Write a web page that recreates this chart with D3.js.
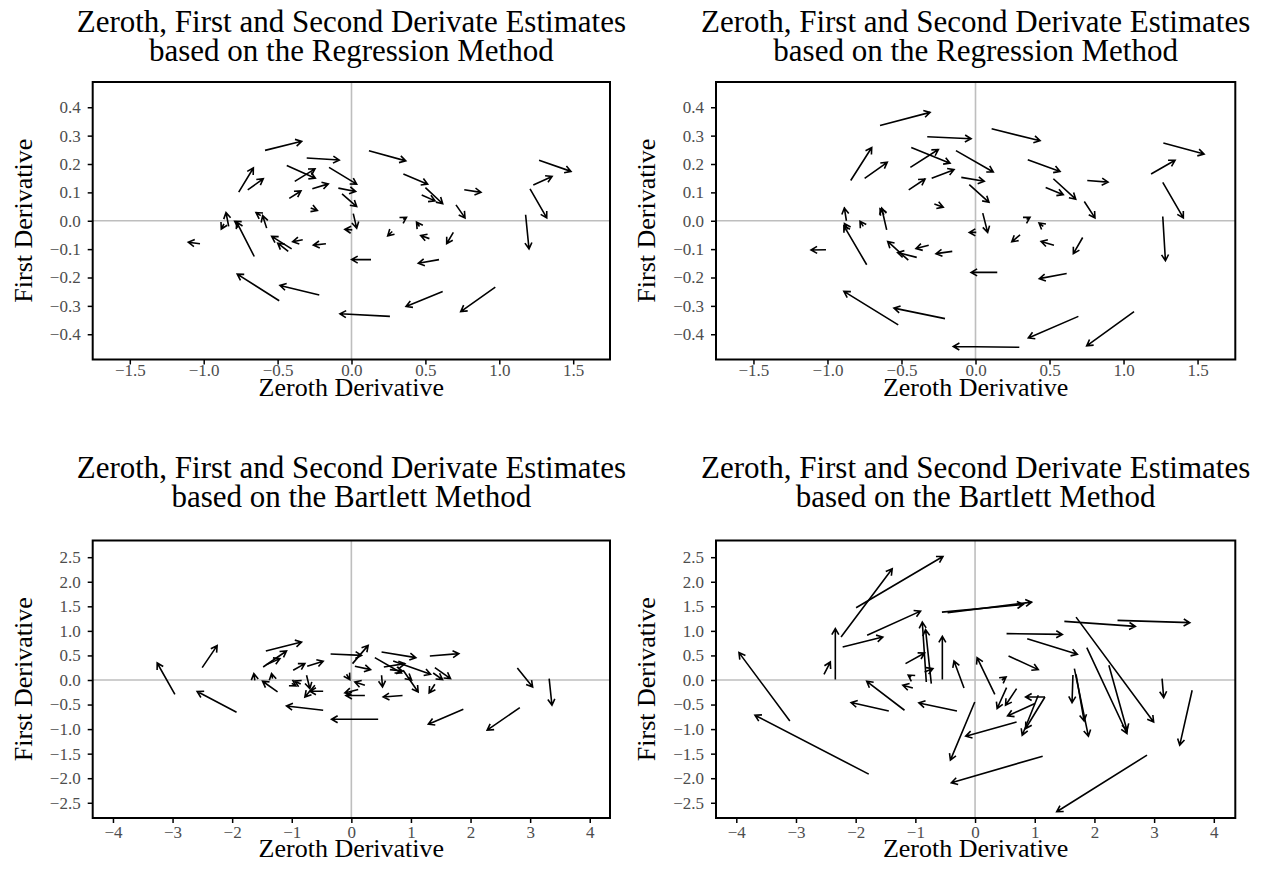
<!DOCTYPE html>
<html>
<head>
<meta charset="utf-8">
<script src="https://cdn.jsdelivr.net/npm/d3@7"></script>
<style>
  body { margin: 0; background: #ffffff; }
  svg text { font-family: "Liberation Serif", "Times New Roman", serif; }
</style>
</head>
<body>
<svg id="chart" width="1263" height="882"></svg>
<script>
// each arrow is [start zeroth, start first, end zeroth, end first]
var regressionA = [
  [-0.585, 0.248, -0.337, 0.280], [-0.303, 0.221, -0.083, 0.214],
  [-0.438, 0.195, -0.245, 0.150], [-0.384, 0.139, -0.247, 0.183],
  [-0.152, 0.188, 0.035, 0.129], [-0.763, 0.101, -0.664, 0.186],
  [-0.702, 0.109, -0.597, 0.148], [-0.265, 0.113, -0.157, 0.130],
  [-0.421, 0.079, -0.342, 0.105], [-0.089, 0.115, 0.028, 0.103],
  [-0.064, 0.095, 0.035, 0.050], [-0.276, 0.045, -0.231, 0.036],
  [0.012, 0.025, 0.035, -0.026], [-0.831, -0.020, -0.849, 0.029],
  [-0.863, -0.011, -0.881, -0.029], [-0.658, -0.126, -0.777, -0.005],
  [-0.760, -0.012, -0.790, -0.002], [-0.574, -0.026, -0.601, 0.018],
  [-0.614, 0.018, -0.646, 0.029], [-0.405, -0.099, -0.540, -0.055],
  [-0.428, -0.108, -0.499, -0.079], [-0.330, -0.067, -0.398, -0.074],
  [-0.173, -0.081, -0.258, -0.086], [-1.025, -0.081, -1.104, -0.076],
  [-0.489, -0.282, -0.773, -0.188], [-0.218, -0.262, -0.484, -0.228],
  [0.005, -0.032, -0.045, -0.030], [0.132, -0.137, 0.001, -0.137],
  [0.260, -0.337, -0.078, -0.328], [0.118, 0.247, 0.367, 0.211],
  [0.351, 0.165, 0.515, 0.129], [0.500, 0.117, 0.617, 0.060],
  [0.475, 0.091, 0.565, 0.070], [0.763, 0.109, 0.876, 0.100],
  [0.707, 0.056, 0.768, 0.010], [1.269, 0.213, 1.485, 0.174],
  [1.230, 0.126, 1.357, 0.156], [1.208, 0.112, 1.321, 0.010],
  [1.178, 0.021, 1.201, -0.099], [0.973, -0.234, 0.739, -0.320],
  [0.617, -0.249, 0.369, -0.302], [0.592, -0.137, 0.452, -0.150],
  [0.527, -0.063, 0.468, -0.052], [0.689, -0.041, 0.644, -0.081],
  [0.276, -0.038, 0.245, -0.053], [0.460, -0.020, 0.440, -0.005],
  [0.350, 0.005, 0.372, 0.012]
];

var regressionB = [
  [-0.645, 0.336, -0.307, 0.382], [-0.326, 0.296, -0.030, 0.289],
  [-0.434, 0.258, -0.172, 0.203], [-0.440, 0.188, -0.251, 0.251],
  [-0.132, 0.247, 0.120, 0.172], [-0.843, 0.142, -0.701, 0.258],
  [-0.749, 0.149, -0.596, 0.206], [-0.296, 0.150, -0.145, 0.180],
  [-0.451, 0.109, -0.341, 0.147], [-0.096, 0.153, 0.059, 0.139],
  [-0.042, 0.127, 0.091, 0.065], [-0.278, 0.059, -0.218, 0.048],
  [0.049, 0.027, 0.082, -0.041], [-0.872, 0.000, -0.886, 0.045],
  [-0.862, -0.030, -0.885, -0.010], [-0.735, -0.155, -0.889, -0.018],
  [-0.758, -0.020, -0.780, -0.002], [-0.600, -0.032, -0.634, 0.045],
  [-0.618, 0.021, -0.645, 0.042], [-0.454, -0.139, -0.593, -0.073],
  [-0.397, -0.129, -0.526, -0.112], [-0.316, -0.086, -0.402, -0.098],
  [-0.157, -0.108, -0.267, -0.116], [-1.010, -0.102, -1.111, -0.103],
  [-0.522, -0.367, -0.889, -0.249], [-0.206, -0.345, -0.551, -0.308],
  [0.005, -0.041, -0.042, -0.041], [0.147, -0.182, -0.030, -0.182],
  [0.296, -0.446, -0.150, -0.443], [0.109, 0.324, 0.436, 0.282],
  [0.353, 0.215, 0.571, 0.174], [0.526, 0.148, 0.677, 0.076],
  [0.474, 0.117, 0.593, 0.092], [0.755, 0.142, 0.895, 0.136],
  [0.735, 0.068, 0.807, 0.010], [1.269, 0.274, 1.544, 0.235],
  [1.186, 0.165, 1.348, 0.213], [1.265, 0.135, 1.404, 0.010],
  [1.265, 0.015, 1.283, -0.141], [1.071, -0.320, 0.751, -0.441],
  [0.695, -0.337, 0.357, -0.413], [0.616, -0.186, 0.431, -0.204],
  [0.530, -0.086, 0.443, -0.073], [0.724, -0.059, 0.661, -0.116],
  [0.301, -0.050, 0.245, -0.074], [0.458, -0.020, 0.429, -0.008],
  [0.345, 0.005, 0.368, 0.012]
];

var bartlettA = [
  [-2.961, -0.291, -3.258, 0.346], [-2.503, 0.252, -2.252, 0.699],
  [-1.926, -0.657, -2.587, -0.236], [-1.435, 0.590, -0.836, 0.773],
  [-1.480, 0.264, -1.088, 0.590], [-1.423, 0.313, -1.199, 0.435],
  [-0.976, 0.197, -0.780, 0.333], [-0.741, 0.278, -0.473, 0.380],
  [-0.348, 0.528, 0.171, 0.502], [0.020, 0.333, 0.282, 0.705],
  [0.507, 0.569, 1.082, 0.455], [1.317, 0.488, 1.804, 0.536],
  [0.059, 0.278, 0.322, 0.211], [0.394, 0.455, 0.842, 0.142],
  [0.702, 0.386, 1.329, 0.116], [0.545, 0.264, 0.898, 0.333],
  [0.646, 0.211, 0.859, 0.183], [0.869, 0.197, 1.121, -0.244],
  [1.401, 0.252, 1.664, 0.028], [1.373, 0.142, 1.530, 0.008],
  [1.401, -0.087, 1.305, -0.264], [0.859, -0.317, 0.534, -0.346],
  [0.227, -0.317, -0.092, -0.317], [0.227, -0.108, 0.059, -0.041],
  [0.507, 0.096, 0.523, -0.142], [0.115, -0.195, -0.109, -0.264],
  [-0.081, 0.116, -0.025, 0.008], [-0.473, -0.230, -0.696, -0.230],
  [-0.612, -0.108, -0.780, -0.346], [-0.752, 0.096, -0.696, -0.175],
  [-1.238, -0.243, -1.490, -0.026], [-1.322, 0.029, -1.339, 0.130],
  [-1.619, -0.006, -1.636, 0.130], [-0.473, -0.616, -1.088, -0.528],
  [0.450, -0.799, -0.332, -0.799], [2.785, 0.244, 3.042, -0.142],
  [3.319, 0.028, 3.366, -0.514], [2.827, -0.561, 2.279, -1.022],
  [1.879, -0.596, 1.292, -0.900], [-0.850, -0.080, -0.950, -0.020],
  [0.960, 0.050, 1.010, 0.000], [-1.000, -0.070, -0.930, -0.120]
];

var bartlettB = [
  [-3.103, -0.833, -3.955, 0.557], [-1.781, -1.917, -3.687, -0.717],
  [-2.245, 0.874, -1.388, 2.264], [-1.993, 1.472, -0.538, 2.514],
  [-2.341, 0.008, -2.341, 1.045], [-2.531, 0.116, -2.425, 0.366],
  [-1.808, 0.909, -0.913, 1.402], [-2.218, 0.671, -1.546, 0.874],
  [-0.555, 1.382, 0.807, 1.538], [-0.460, 1.370, 0.948, 1.585],
  [-1.165, 0.333, -0.845, 0.549], [-0.817, -0.041, -0.884, 1.179],
  [-0.733, -0.073, -0.829, 1.024], [-0.548, 0.008, -0.548, 0.888],
  [-0.845, 0.163, -0.706, 0.232], [-0.185, -0.163, -0.353, 0.386],
  [0.331, -0.291, 0.034, 0.455], [-1.042, -0.163, -1.210, -0.108],
  [-1.070, 0.060, -1.120, 0.100], [-1.182, -0.616, -1.815, -0.026],
  [-0.303, -0.630, -0.941, -0.467], [-1.445, -0.630, -2.077, -0.459],
  [-0.005, -0.447, -0.413, -1.632], [0.696, -0.854, -0.156, -1.144],
  [0.528, -0.154, 0.370, -0.581], [0.696, -0.175, 0.511, -0.514],
  [1.171, -0.346, 0.847, -0.346], [1.003, -0.480, 0.545, -0.732],
  [1.059, -0.311, 0.790, -1.124], [1.171, -0.346, 0.847, -0.988],
  [0.561, 0.488, 1.059, 0.211], [0.528, 0.943, 1.462, 0.929],
  [0.874, 0.841, 1.714, 0.522], [0.450, 0.000, 0.520, 0.060],
  [1.640, 0.100, 1.625, -0.460], [1.664, 0.232, 1.899, -1.144],
  [1.692, 0.116, 1.827, -0.833], [1.496, 1.193, 2.685, 1.091],
  [1.692, 1.280, 2.992, -0.854], [1.872, 0.659, 2.545, -1.089],
  [2.242, 0.299, 2.545, -1.022], [2.387, 1.213, 3.597, 1.167],
  [3.133, 0.028, 3.160, -0.358], [3.637, -0.209, 3.429, -1.327],
  [2.881, -1.530, 1.368, -2.683], [1.133, -1.551, -0.397, -2.093]
];

// tick values
var regXTicks = [-1.5, -1.0, -0.5, 0.0, 0.5, 1.0, 1.5];
var regYTicks = [-0.4, -0.3, -0.2, -0.1, 0.0, 0.1, 0.2, 0.3, 0.4];
var bartXTicks = [-4, -3, -2, -1, 0, 1, 2, 3, 4];
var bartYTicks = [-2.5, -2.0, -1.5, -1.0, -0.5, 0.0, 0.5, 1.0, 1.5, 2.0, 2.5];

var titleLine1 = "Zeroth, First and Second Derivate Estimates";
var svg = d3.select("#chart");

//draws the title, the x label and the y label of one panel
var createLabels = function (g, p) {
  var box = p.box;
  var cx = (box.left + box.right) / 2;
  var cy = (box.top + box.bottom) / 2;

  var clipId = "clip" + Math.round(p.cell.x) + "_" + Math.round(p.titleY);
  svg.append("clipPath").attr("id", clipId)
    .append("rect")
    .attr("x", p.cell.x).attr("y", 0)
    .attr("width", p.cell.width).attr("height", 882);

  var titles = g.append("g").attr("clip-path", "url(#" + clipId + ")");
  [titleLine1, p.subtitle].forEach(function (line, i) {
    titles.append("text")
      .text(line)
      .attr("x", cx)
      .attr("y", p.titleY + i * 29)
      .attr("text-anchor", "middle")
      .style("font-size", "31px")
      .style("fill", "#000");
  });

  g.append("text")
    .text("Zeroth Derivative")
    .attr("x", cx)
    .attr("y", box.bottom + p.xTitleGap)
    .attr("text-anchor", "middle")
    .style("font-size", "26px");

  g.append("text")
    .text("First Derivative")
    .attr("text-anchor", "middle")
    .attr("transform", "translate(" + (box.left - 61) + "," + cy + ") rotate(-90)")
    .style("font-size", "26px");
};

//ticks and tick labels on the left and bottom side
var createAxes = function (g, p, xScale, yScale) {
  var axes = g.append("g").classed("axes", true);

  var xAxis = d3.axisBottom(xScale).tickValues(p.xTicks).tickFormat(p.fmt)
    .tickSizeInner(5).tickSizeOuter(0).tickPadding(p.xTickPad);
  var yAxis = d3.axisLeft(yScale).tickValues(p.yTicks).tickFormat(d3.format(".1f"))
    .tickSizeInner(5).tickSizeOuter(0).tickPadding(7);

  axes.append("g")
    .attr("transform", "translate(0," + p.box.bottom + ")")
    .call(xAxis);
  axes.append("g")
    .attr("transform", "translate(" + p.box.left + ",0)")
    .call(yAxis);

  axes.selectAll(".domain").remove();
  axes.selectAll(".tick line").attr("stroke", "#000").attr("stroke-width", 1.5);
  axes.selectAll(".tick text")
    .attr("fill", "#4d4d4d")
    .style("font-family", "'Liberation Serif', serif")
    .style("font-size", "17px");
};

// arrow shaft plus an open head
var arrowPath = function (d, xScale, yScale) {
  var x0 = xScale(d[0]), y0 = yScale(d[1]);
  var x1 = xScale(d[2]), y1 = yScale(d[3]);
  var ang = Math.atan2(y1 - y0, x1 - x0);
  var len = 7, spread = Math.PI / 6;
  var ax = x1 - len * Math.cos(ang - spread), ay = y1 - len * Math.sin(ang - spread);
  var bx = x1 - len * Math.cos(ang + spread), by = y1 - len * Math.sin(ang + spread);
  return "M" + x0 + "," + y0 + "L" + x1 + "," + y1 +
    "M" + ax + "," + ay + "L" + x1 + "," + y1 + "L" + bx + "," + by;
};

var drawArrows = function (g, data, xScale, yScale, box) {
  // zero reference lines
  g.append("line")
    .attr("x1", xScale(0)).attr("x2", xScale(0))
    .attr("y1", box.top).attr("y2", box.bottom)
    .attr("stroke", "#bebebe").attr("stroke-width", 1.6);
  g.append("line")
    .attr("x1", box.left).attr("x2", box.right)
    .attr("y1", yScale(0)).attr("y2", yScale(0))
    .attr("stroke", "#bebebe").attr("stroke-width", 1.6);

  g.selectAll("path.arrow")
    .data(data)
    .enter()
    .append("path")
    .classed("arrow", true)
    .attr("d", function (d) { return arrowPath(d, xScale, yScale); })
    .attr("fill", "none")
    .attr("stroke", "#000")
    .attr("stroke-width", 1.6)
    .attr("stroke-linecap", "butt");

  // panel border
  g.append("rect")
    .attr("x", box.left).attr("y", box.top)
    .attr("width", box.right - box.left)
    .attr("height", box.bottom - box.top)
    .attr("fill", "none")
    .attr("stroke", "#000")
    .attr("stroke-width", 2);
};

var initPanel = function (p) {
  var g = svg.append("g").classed("panel", true);

  var xScale = d3.scaleLinear().domain(p.xDomain).range([p.box.left, p.box.right]);
  var yScale = d3.scaleLinear().domain(p.yDomain).range([p.box.bottom, p.box.top]);

  createLabels(g, p);
  createAxes(g, p, xScale, yScale);
  drawArrows(g, p.data, xScale, yScale, p.box);
};

var panels = [
  { data: regressionA, subtitle: "based on the Regression Method", titleY: 32,
    box: { left: 92.7, right: 610, top: 82, bottom: 359.5 },
    cell: { x: 0, width: 631.5 }, xTickPad: -1, xTitleGap: 36,
    xDomain: [-1.751, 1.749], yDomain: [-0.489, 0.489],
    xTicks: regXTicks, yTicks: regYTicks, fmt: d3.format(".1f") },
  { data: regressionB, subtitle: "based on the Regression Method", titleY: 32,
    box: { left: 716, right: 1235.3, top: 82, bottom: 359.5 },
    cell: { x: 631.5, width: 631.5 }, xTickPad: -1, xTitleGap: 36,
    xDomain: [-1.753, 1.755], yDomain: [-0.489, 0.489],
    xTicks: regXTicks, yTicks: regYTicks, fmt: d3.format(".1f") },
  { data: bartlettA, subtitle: "based on the Bartlett Method", titleY: 478,
    box: { left: 92.7, right: 610, top: 540.5, bottom: 818 },
    cell: { x: 0, width: 631.5 }, xTickPad: 3, xTitleGap: 39,
    xDomain: [-4.34, 4.34], yDomain: [-2.81, 2.84],
    xTicks: bartXTicks, yTicks: bartYTicks, fmt: d3.format("d") },
  { data: bartlettB, subtitle: "based on the Bartlett Method", titleY: 478,
    box: { left: 716, right: 1235.3, top: 540.5, bottom: 818 },
    cell: { x: 631.5, width: 631.5 }, xTickPad: 3, xTitleGap: 39,
    xDomain: [-4.34, 4.36], yDomain: [-2.81, 2.84],
    xTicks: bartXTicks, yTicks: bartYTicks, fmt: d3.format("d") }
];

panels.forEach(initPanel);
</script>
</body>
</html>
